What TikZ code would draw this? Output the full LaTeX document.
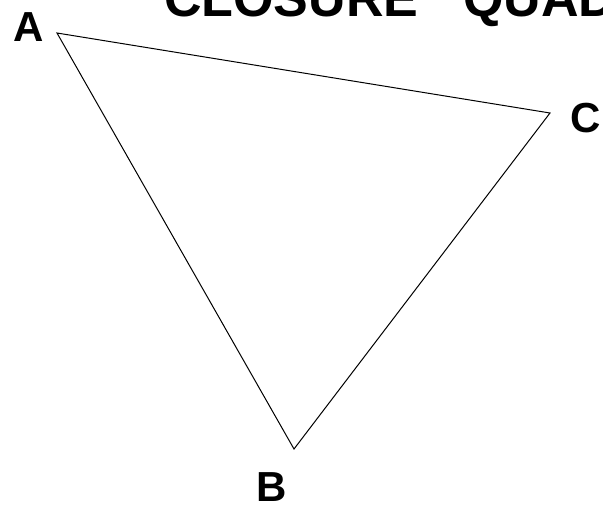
\documentclass[tikz,border=0pt]{standalone}
\usepackage{fontspec}
\setmainfont{Liberation Sans}
\begin{document}
\begin{tikzpicture}[x=1pt,y=-1pt,
    vertex/.style={font=\fontsize{42}{42}\bfseries\selectfont, inner sep=0pt},
    side/.style={draw=black, line width=1pt}]
    \useasboundingbox (0,0) rectangle (603,509);
    \clip (0,0) rectangle (603,509);
    % title, cut off by the frame
    \node[font=\fontsize{52}{52}\bfseries\selectfont, anchor=base west, inner sep=0pt] (title) at (164,16) {CLOSURE\hspace{45pt}QUAD};
    % corners
    \coordinate (A) at (57,33);
    \coordinate (C) at (550,113);
    \coordinate (B) at (294,449);
    \draw[side] (A) -- (C) -- (B) -- cycle;
    % labels
    \node[vertex, anchor=base] (labA) at (29,41) {A};
    \node[vertex, anchor=base] (labC) at (586,132) {C};
    \node[vertex, anchor=base] (labB) at (272,501) {B};
\end{tikzpicture}
\end{document}
